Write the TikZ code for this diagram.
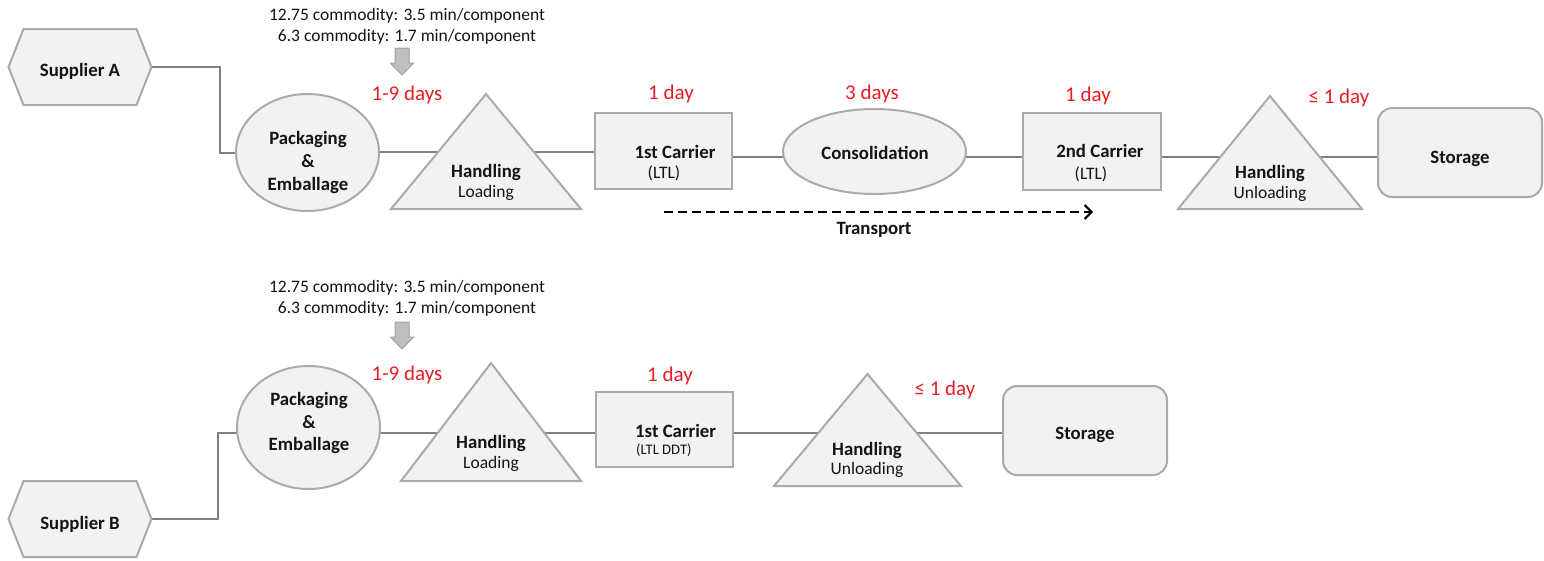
\documentclass[tikz,border=0pt]{standalone}
\usepackage{fontspec}
\setmainfont{Carlito}
\usetikzlibrary{shapes.geometric,arrows.meta,calc}
\pgfdeclarelayer{lines}
\pgfdeclarelayer{shapes}
\pgfsetlayers{lines,shapes,main}
\definecolor{shapefill}{RGB}{242,242,242}
\definecolor{shapeline}{RGB}{170,170,170}
\definecolor{connline}{RGB}{128,128,128}
\definecolor{daysred}{RGB}{230,30,35}
\definecolor{arrowfill}{RGB}{191,191,191}
\definecolor{arrowline}{RGB}{160,160,160}
\definecolor{txt}{RGB}{20,20,20}
\tikzset{
 shp/.style={draw=shapeline, fill=shapefill, line width=2pt},
 holder/.style={draw=none, inner sep=0pt, outer sep=0pt},
 ell/.style={shp, ellipse, inner sep=0pt},
 boxshape/.style={shp, rectangle, inner sep=0pt},
 conn/.style={draw=connline, line width=2pt},
 lbl/.style={inner sep=0pt, text depth=0pt, text=txt},
 bl/.style={lbl, text height=12pt, font=\fontsize{18.8}{22}\selectfont\bfseries},
 rl/.style={lbl, text height=11.2pt, font=\fontsize{17.5}{21}\selectfont},
 sl/.style={lbl, text height=9.3pt, font=\fontsize{14.6}{17}\selectfont},
 daylbl/.style={inner sep=0pt, text depth=0pt, text height=13.4pt, text=daysred, font=\fontsize{21}{25}\selectfont},
 garrow/.style={fill=arrowfill, draw=arrowline, line width=1pt},
 transp/.style={draw=black, line width=2pt, dash pattern=on 9pt off 5pt, -{Straight Barb[length=7pt,width=14pt]}},
}
\newcommand\drawhex[1]{\begin{pgfonlayer}{shapes}\draw[shp] (#1.west) -- ([xshift=15pt]#1.north west) -- ([xshift=-15pt]#1.north east) -- (#1.east) -- ([xshift=-15pt]#1.south east) -- ([xshift=15pt]#1.south west) -- cycle;\end{pgfonlayer}}
\newcommand\drawtri[1]{\begin{pgfonlayer}{shapes}\draw[shp] (#1.north) -- (#1.south east) -- (#1.south west) -- cycle;\end{pgfonlayer}}
\begin{document}
\begin{tikzpicture}[x=1pt,y=-1pt]
\useasboundingbox (0,0) rectangle (1544,560);
\coordinate (rA1) at (0,152);
\coordinate (rA2) at (0,156.5);
\coordinate (rB) at (0,433);

% ---------- Row A shapes ----------
\node[holder, minimum width=143pt, minimum height=76pt] (supA) at (80,67) {};
\node[ell, minimum width=143pt, minimum height=117pt] (packA) at (307.5,152.5) {};
\node[holder, minimum width=190pt, minimum height=115pt] (hlA) at (486,151.5) {};
\node[boxshape, minimum width=137pt, minimum height=76pt] (c1A) at (663.5,151) {};
\node[ell, minimum width=183pt, minimum height=85pt] (consA) at (874.5,151.5) {};
\node[boxshape, minimum width=138pt, minimum height=77pt] (c2A) at (1092,151.5) {};
\node[holder, minimum width=184pt, minimum height=113pt] (huA) at (1270,152.5) {};
\node[boxshape, rounded corners=14pt, minimum width=164pt, minimum height=89pt] (stA) at (1460,152.5) {};
\drawhex{supA}
\drawtri{hlA}
\drawtri{huA}

% ---------- Row B shapes ----------
\node[holder, minimum width=143pt, minimum height=76pt] (supB) at (80,519) {};
\node[ell, minimum width=143pt, minimum height=123pt] (packB) at (308.5,427.5) {};
\node[holder, minimum width=180pt, minimum height=118pt] (hlB) at (491,422) {};
\node[boxshape, minimum width=137pt, minimum height=75pt] (c1B) at (664.5,429.5) {};
\node[holder, minimum width=187pt, minimum height=112pt] (huB) at (867.5,430) {};
\node[boxshape, rounded corners=14pt, minimum width=164pt, minimum height=89pt] (stB) at (1085,430.5) {};
\drawhex{supB}
\drawtri{hlB}
\drawtri{huB}

% ---------- connectors ----------
\begin{pgfonlayer}{lines}
\draw[conn] (supA.east) -- ++(68,0) |- (packA.west);
\draw[conn] (packA |- rA1) -- (hlA |- rA1);
\draw[conn] (hlA |- rA1) -- (c1A |- rA1);
\draw[conn] (c1A |- rA2) -- (consA |- rA2);
\draw[conn] (consA |- rA2) -- (c2A |- rA2);
\draw[conn] (c2A |- rA2) -- (huA |- rA2);
\draw[conn] (huA |- rA2) -- (stA |- rA2);
\draw[conn] (supB.east) -- ++(66,0) |- (packB |- rB);
\draw[conn] (packB |- rB) -- (hlB |- rB);
\draw[conn] (hlB |- rB) -- (c1B |- rB);
\draw[conn] (c1B |- rB) -- (huB |- rB);
\draw[conn] (huB |- rB) -- (stB |- rB);
\end{pgfonlayer}

% ---------- transport arrow ----------
\coordinate (trS) at (664,212);
\coordinate (trE) at (1093,212);
\draw[transp] (trS) -- (trE);
\node[bl] (transport) at (874,228) {Transport};

% ---------- gray block arrows ----------
\coordinate (arrA) at (402,48);
\draw[garrow] (arrA) ++(-7,0) -- ++(14,0) -- ++(0,15) -- ++(4.5,0) -- ++(-11.5,12) -- ++(-11.5,-12) -- ++(4.5,0) -- cycle;
\coordinate (arrB) at (402,322);
\draw[garrow] (arrB) ++(-7,0) -- ++(14,0) -- ++(0,15) -- ++(4.5,0) -- ++(-11.5,12) -- ++(-11.5,-12) -- ++(4.5,0) -- cycle;

% ---------- Row A texts ----------
\node[rl] (comA1) at (407,15) {12.75 commodity: 3.5 min/component};
\node[rl] (comA2) at (407,36) {6.3 commodity: 1.7 min/component};
\node[bl] (supAt) at (80,70) {Supplier A};
\node[bl] (packAt1) at (308,138) {Packaging};
\node[bl] (packAt2) at (308,161) {\&};
\node[bl] (packAt3) at (308,184) {Emballage};
\node[bl] (hlAt1) at (486,171) {Handling};
\node[rl] (hlAt2) at (486,192) {Loading};
\node[bl] (c1At1) at (675,152) {1st Carrier};
\node[rl] (c1At2) at (664,173) {(LTL)};
\node[bl] (consAt) at (875,153) {Consolidation};
\node[bl] (c2At1) at (1100,151) {2nd Carrier};
\node[rl] (c2At2) at (1091,174) {(LTL)};
\node[bl] (huAt1) at (1270,172) {Handling};
\node[rl] (huAt2) at (1270,193) {Unloading};
\node[bl] (stAt) at (1460,157) {Storage};
\node[daylbl] (dA1) at (407,94) {1-9 days};
\node[daylbl] (dA2) at (671,93) {1 day};
\node[daylbl] (dA3) at (872,93) {3 days};
\node[daylbl] (dA4) at (1088,95) {1 day};
\node[daylbl] (dA5) at (1339,97) {≤ 1 day};

% ---------- Row B texts ----------
\node[rl] (comB1) at (407,287) {12.75 commodity: 3.5 min/component};
\node[rl] (comB2) at (407,308) {6.3 commodity: 1.7 min/component};
\node[bl] (supBt) at (80,523) {Supplier B};
\node[bl] (packBt1) at (309,399) {Packaging};
\node[bl] (packBt2) at (309,422) {\&};
\node[bl] (packBt3) at (309,444) {Emballage};
\node[bl] (hlBt1) at (491,442) {Handling};
\node[rl] (hlBt2) at (491,463) {Loading};
\node[bl, anchor=west] (c1Bt1) at (635,431) {1st Carrier};
\node[sl, anchor=west] (c1Bt2) at (636,450) {(LTL DDT)};
\node[bl] (huBt1) at (867,449) {Handling};
\node[rl] (huBt2) at (867,469) {Unloading};
\node[bl] (stBt) at (1085,433) {Storage};
\node[daylbl] (dB1) at (407,374) {1-9 days};
\node[daylbl] (dB2) at (670,375) {1 day};
\node[daylbl] (dB3) at (945,389) {≤ 1 day};
\end{tikzpicture}
\end{document}
